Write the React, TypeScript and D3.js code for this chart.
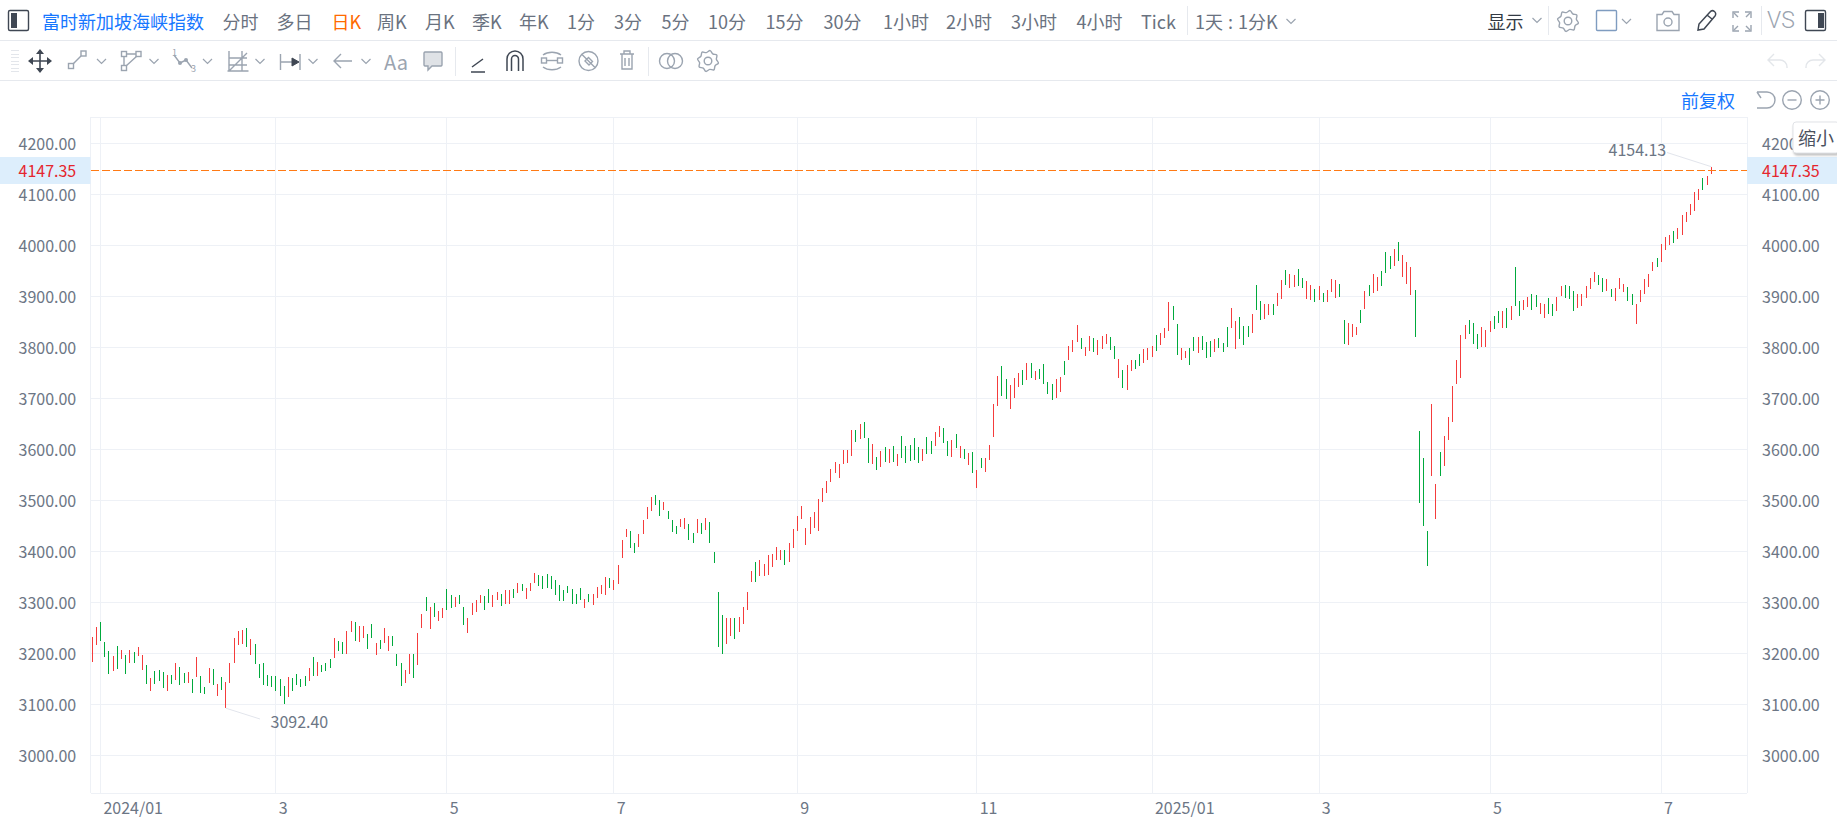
import React from "react";
import * as d3 from "d3";

const highs = [
  3232,3252,3261,3222,3205,3195,3214,3207,3197,3207,
  3203,3212,3197,3177,3152,3165,3167,3163,3158,3158,
  3181,3173,3161,3163,3150,3193,3156,3134,3171,3169,
  3140,3154,3144,3181,3230,3244,3246,3250,3228,3218,
  3179,3181,3158,3156,3156,3150,3136,3154,3152,3160,
  3150,3156,3171,3193,3183,3177,3181,3189,3230,3224,
  3222,3244,3263,3261,3254,3254,3238,3258,3220,3226,
  3250,3234,3234,3199,3181,3167,3199,3199,3240,3277,
  3310,3291,3299,3283,3289,3326,3314,3310,3314,3291,
  3269,3299,3305,3314,3312,3326,3314,3320,3316,3324,
  3324,3326,3338,3336,3328,3338,3358,3354,3352,3356,
  3352,3344,3334,3324,3332,3326,3316,3328,3307,3316,
  3316,3330,3334,3350,3348,3344,3373,3422,3444,3440,
  3416,3434,3461,3487,3507,3510,3501,3497,3479,3461,
  3450,3463,3465,3454,3436,3463,3455,3465,3457,3399,
  3320,3275,3269,3269,3269,3271,3291,3320,3361,3379,
  3383,3375,3393,3395,3408,3403,3403,3416,3444,3469,
  3489,3446,3467,3477,3503,3524,3538,3561,3575,3571,
  3599,3599,3638,3638,3650,3654,3622,3610,3585,3597,
  3605,3601,3607,3591,3626,3607,3609,3622,3605,3601,
  3624,3616,3634,3646,3642,3616,3618,3630,3607,3601,
  3593,3595,3560,3583,3583,3609,3689,3744,3763,3738,
  3726,3740,3750,3756,3769,3769,3754,3758,3767,3732,
  3728,3738,3742,3773,3803,3814,3844,3818,3801,3822,
  3818,3814,3822,3826,3820,3803,3777,3756,3765,3775,
  3775,3787,3797,3799,3803,3824,3828,3838,3889,3881,
  3846,3799,3793,3799,3820,3820,3822,3810,3812,3816,
  3818,3808,3840,3877,3852,3859,3842,3842,3865,3922,
  3891,3885,3885,3885,3906,3932,3952,3944,3942,3954,
  3936,3930,3922,3914,3920,3906,3912,3934,3932,3924,
  3854,3848,3846,3840,3873,3910,3922,3944,3938,3950,
  3987,3979,3993,4007,3981,3967,3957,3912,3636,3583,
  3440,3689,3532,3595,3626,3663,3724,3775,3824,3844,
  3853,3848,3826,3840,3834,3852,3861,3871,3871,3877,
  3881,3957,3891,3893,3899,3905,3903,3887,3885,3897,
  3885,3899,3920,3922,3920,3910,3905,3905,3920,3936,
  3948,3942,3936,3934,3914,3916,3936,3924,3918,3905,
  3885,3912,3934,3944,3967,3975,4003,4016,4020,4028,
  4034,4059,4065,4081,4105,4110,4132,4136,4154.13,
];

const lows = [
  3183,3216,3224,3193,3160,3165,3169,3189,3160,3181,
  3181,3195,3167,3140,3126,3140,3146,3132,3126,3140,
  3148,3138,3142,3142,3122,3154,3122,3120,3142,3138,
  3116,3128,3092.4,3142,3181,3216,3218,3212,3197,3179,
  3152,3138,3136,3134,3126,3116,3101,3114,3126,3138,
  3134,3136,3146,3156,3156,3163,3165,3171,3191,3205,
  3199,3199,3242,3224,3222,3230,3209,3230,3197,3209,
  3220,3205,3214,3175,3136,3142,3160,3152,3177,3250,
  3283,3248,3271,3263,3269,3285,3289,3291,3297,3255,
  3240,3275,3281,3299,3285,3299,3291,3305,3293,3297,
  3297,3308,3318,3322,3307,3322,3338,3332,3326,3328,
  3326,3314,3303,3303,3318,3297,3297,3305,3289,3301,
  3295,3308,3316,3314,3328,3324,3336,3387,3428,3406,
  3397,3408,3434,3463,3479,3491,3469,3481,3463,3438,
  3434,3448,3444,3422,3416,3436,3434,3442,3416,3377,
  3212,3199,3218,3234,3228,3242,3258,3285,3340,3340,
  3352,3352,3354,3369,3383,3383,3373,3379,3407,3440,
  3463,3412,3434,3446,3440,3497,3514,3536,3554,3544,
  3571,3573,3587,3614,3620,3622,3573,3571,3559,3565,
  3575,3573,3575,3567,3583,3573,3577,3579,3573,3577,
  3591,3591,3607,3624,3612,3587,3585,3603,3583,3581,
  3569,3554,3524,3563,3556,3579,3624,3685,3705,3699,
  3680,3700,3722,3726,3736,3740,3736,3738,3728,3708,
  3697,3700,3712,3746,3775,3791,3810,3797,3783,3793,
  3791,3785,3797,3807,3795,3777,3740,3720,3716,3754,
  3758,3763,3769,3775,3781,3793,3805,3818,3832,3854,
  3785,3775,3779,3765,3793,3789,3795,3779,3781,3791,
  3799,3791,3801,3838,3797,3816,3805,3820,3828,3873,
  3854,3855,3863,3863,3881,3895,3922,3916,3918,3920,
  3916,3895,3893,3889,3893,3889,3889,3908,3897,3899,
  3806,3805,3820,3824,3848,3875,3901,3906,3910,3920,
  3946,3954,3959,3969,3938,3924,3903,3820,3495,3450,
  3371,3548,3463,3548,3567,3618,3654,3728,3740,3816,
  3826,3806,3797,3801,3801,3830,3836,3848,3838,3838,
  3854,3881,3861,3873,3879,3873,3879,3865,3857,3865,
  3861,3871,3901,3897,3895,3871,3877,3881,3897,3914,
  3928,3922,3908,3910,3899,3891,3914,3908,3891,3883,
  3846,3889,3905,3918,3950,3957,3967,3991,4001,4005,
  4012,4020,4046,4059,4067,4089,4108,4118,4140,
];

const trend = [
  "RRGGGRGRGR","GRRGRGGGRG","RGGRGRGGRG","RGRRRRRGRG","GGGGGGGRGG",
  "GGRGRGGGRG","GRRGRRGGRG","RRGGGRRGRR","GRGRRGGRGG","RRRRGGRRGR",
  "RGRGRRRGGG","GGGGGGGGRG","RRRRGRRRRG","GRRRRGGRGG","GRRGGRGRGG",
  "GGRRGRRRRG","RRRRRRGRRR","RRRRRRRRRR","RRRGRGGRGR","GRGRGGGGGR",
  "GGRRGGRGRG","RGRGRRRRGG","RRRGRGRGGG","GRRGRRRGRR","GRRRGGRGRR",
  "GGRRRGRRRG","GRRGGRGGGR","GGGRRGGGRG","GRRGRRGRRG","GRRGRGRRRG",
  "GRRRGRGRRG","GGRGRRRGGG","GRRGRRRRRR","GGGRRRGGRG","RGGRRGGRRG",
  "GRRGGGRRRR","RGGRGRRRGG","RRRRRGRRRG","RRRRRRGRR",
];

const priceTicks = [3000,3100,3200,3300,3400,3500,3600,3700,3800,3900,4000,4100,4200];
const monthLabels = ["2024/01","3","5","7","9","11","2025/01","3","5","7"];
const monthBarIndex = [2,44,85,125,169,212,254,294,335,376];
const lastPrice = 4147.35;
const lowBar = 32, lowValue = 3092.4;
const highBar = 388, highValue = 4154.13;

const periods: [string, number][] = [
  ["分时",222.5],["多日",276.5],["周K",377],["月K",425],["季K",472],["年K",519],
  ["1分",567],["3分",614],["5分",661.5],["10分",708],["15分",765.5],["30分",823.5],
  ["1小时",883],["2小时",946],["3小时",1011],["4小时",1076.5],["Tick",1141],
];

const W = 1837, H = 831;
const FONT = '"Noto Sans CJK SC","Noto Sans",sans-serif';
const RED = "#f43c3c", GREEN = "#00a93c", GRID = "#eef1f6", AXT = "#6c7685", ICON = "#9ba4b0", DARK = "#3f4753", LINE = "#e6e9ee";
const PLOT = { l: 90.5, r: 1747, t: 117, b: 793 };

const Chev = ({ x, y }: { x: number; y: number }) => (
  <path d={`M${x - 4.5} ${y - 2}L${x} ${y + 2.5}L${x + 4.5} ${y - 2}`} fill="none" stroke={ICON} strokeWidth={1.2} />
);

const Gear = ({ x, y, r = 9 }: { x: number; y: number; r?: number }) => {
  const pts = d3.range(16).map((i) => {
    const a = (i / 16) * Math.PI * 2 + Math.PI / 16;
    const rr = i % 2 === 0 ? r * 1.12 : r * 0.9;
    return [x + rr * Math.cos(a), y + rr * Math.sin(a)] as [number, number];
  });
  return (
    <g fill="none" stroke={ICON} strokeWidth={1.4}>
      <path d={d3.line().curve(d3.curveCatmullRomClosed)(pts) || ""} />
      <circle cx={x} cy={y} r={r * 0.4} />
    </g>
  );
};

export default function App() {
  const x = d3.scaleLinear().domain([0, highs.length - 1]).range([92.3, 1711.3]);
  const y = d3.scaleLinear().domain([3000, 4200]).range([755.3, 143.3]);
  const colors = trend.join("");
  const py = (v: number) => Math.floor(y(v)) + 0.5;
  const lastY = py(lastPrice);

  React.useEffect(() => {
    document.body.style.margin = "0";
    document.body.style.overflow = "hidden";
  }, []);

  const txt = { fontFamily: FONT } as const;

  return (
    <svg width={W} height={H} viewBox={`0 0 ${W} ${H}`} style={{ position: "fixed", left: 0, top: 0, background: "#fff" }}>
      {/* plot frame and grid */}
      <g stroke={GRID} strokeWidth={1} shapeRendering="crispEdges">
        <line x1={PLOT.l} x2={PLOT.r} y1={PLOT.t} y2={PLOT.t} />
        <line x1={PLOT.l} x2={PLOT.r} y1={PLOT.b} y2={PLOT.b} />
        <line x1={PLOT.l} x2={PLOT.l} y1={PLOT.t} y2={PLOT.b} />
        <line x1={PLOT.r} x2={PLOT.r} y1={PLOT.t} y2={PLOT.b} />
        {priceTicks.map((t) => (
          <line key={t} x1={PLOT.l} x2={PLOT.r} y1={py(t)} y2={py(t)} />
        ))}
        {monthBarIndex.map((b) => (
          <line key={b} x1={Math.floor(x(b)) + 0.5} x2={Math.floor(x(b)) + 0.5} y1={PLOT.t} y2={PLOT.b} />
        ))}
      </g>

      {/* price-range bars */}
      <g shapeRendering="crispEdges">
        {highs.map((h, i) => (
          <rect
            key={i}
            x={Math.floor(x(i))}
            y={Math.round(y(h))}
            width={1}
            height={Math.max(1, Math.round(y(lows[i])) - Math.round(y(h)))}
            fill={colors[i] === "R" ? RED : GREEN}
          />
        ))}
      </g>

      {/* last price line */}
      <rect x={0} y={157} width={PLOT.l} height={27} fill="#ddeefc" />
      <rect x={PLOT.r} y={157} width={W - PLOT.r} height={27} fill="#ddeefc" />
      <line x1={PLOT.l} x2={PLOT.r} y1={lastY} y2={lastY} stroke="#ff7a14" strokeWidth={1} strokeDasharray="8 3" shapeRendering="crispEdges" />

      {/* axis labels */}
      <g {...txt} fontSize={16} fill={AXT} dominantBaseline="central">
        {priceTicks.map((t) => (
          <g key={t}>
            <text x={18.5} y={y(t) - 0.8}>{t.toFixed(2)}</text>
            <text x={1762} y={y(t) - 0.8}>{t.toFixed(2)}</text>
          </g>
        ))}
        {monthLabels.map((m, i) => (
          <text key={i} x={x(monthBarIndex[i]) + 2.8} y={807}>{m}</text>
        ))}
        <text x={270.5} y={720.5}>{lowValue.toFixed(2)}</text>
        <text x={1608.5} y={149}>{highValue.toFixed(2)}</text>
      </g>
      <g {...txt} fontSize={16} fill="#e5262e" dominantBaseline="central">
        <text x={18.5} y={lastY - 0.3}>{lastPrice.toFixed(2)}</text>
        <text x={1762} y={lastY - 0.3}>{lastPrice.toFixed(2)}</text>
      </g>
      <g stroke="#e2e5ec" strokeWidth={1} fill="none">
        <line x1={x(lowBar)} y1={y(lowValue)} x2={260} y2={719} />
        <line x1={1667} y1={152.5} x2={x(highBar)} y2={y(highValue)} />
      </g>

      {/* toolbar separators */}
      <g stroke={LINE} strokeWidth={1} shapeRendering="crispEdges">
        <line x1={0} x2={W} y1={40.5} y2={40.5} />
        <line x1={0} x2={W} y1={80.5} y2={80.5} />
        <line x1={1187.5} x2={1187.5} y1={6} y2={35} />
        <line x1={1548.5} x2={1548.5} y1={6} y2={35} />
        <line x1={1761.5} x2={1761.5} y1={6} y2={35} />
        <line x1={455.5} x2={455.5} y1={47} y2={76} />
        <line x1={648.5} x2={648.5} y1={47} y2={76} />
      </g>

      {/* first toolbar */}
      <rect x={8.5} y={10.5} width={20} height={20} rx={1.5} fill="none" stroke={DARK} strokeWidth={1.4} />
      <rect x={11} y={13} width={6} height={15} fill={DARK} />
      <g {...txt} fontSize={18} dominantBaseline="central">
        <text x={42} y={20.5} fill="#1677ff">富时新加坡海峡指数</text>
        <text x={331.5} y={20.5} fill="#ff6a00">日K</text>
        {periods.map(([p, px]) => (
          <text key={p} x={px} y={20.5} fill="#6a7280">{p}</text>
        ))}
        <text x={1195} y={20.5} fill="#6a7280" wordSpacing={1}>1天 : 1分K</text>
        <text x={1487.5} y={20.5} fill="#333a45">显示</text>
        <text x={1767} y={20.5} fill={ICON} fontSize={23} fontFamily="Roboto" fontWeight={300}>VS</text>
      </g>
      <Chev x={1291} y={21} />
      <Chev x={1537} y={20} />
      <Gear x={1568} y={21} r={9.5} />
      <rect x={1596.5} y={10.5} width={20} height={20} rx={1} fill="none" stroke="#7f9cc0" strokeWidth={1.4} />
      <Chev x={1626.5} y={21} />
      <g fill="none" stroke={ICON} strokeWidth={1.4}>
        <path d="M1657 14.5h5l2-3h8l2 3h5v16h-22z" />
        <circle cx={1668} cy={22} r={4} />
        <path d="M1733 18v-6h6M1751 18v-6h-6M1733 25v6h6M1751 25v6h-6" />
        <path d="M1734 13l4 4M1750 13l-4 4M1734 30l4-4M1750 30l-4-4" />
      </g>
      <path d="M1698 30l1-6 11-12a2.5 2.5 0 0 1 5 4l-11 13-6 1zM1707 15l5 4" fill="none" stroke={DARK} strokeWidth={1.5} />
      <rect x={1805.5} y={10.5} width={20} height={20} rx={1.5} fill="none" stroke={DARK} strokeWidth={1.4} />
      <rect x={1818} y={13} width={6} height={15} fill={DARK} />

      {/* second toolbar */}
      <g stroke="#e3e6eb" strokeWidth={1} shapeRendering="crispEdges">
        {d3.range(7).map((i) => (
          <line key={i} x1={11} x2={19} y1={50.5 + i * 3.5} y2={50.5 + i * 3.5} />
        ))}
      </g>
      <g fill="none" stroke={DARK} strokeWidth={1.6}>
        <path d="M31 61h18M40 52v18" />
      </g>
      <path d="M40 49l-4 5h8zM40 73l-4-5h8zM28 61l5-4v8zM52 61l-5-4v8z" fill={DARK} />
      <g fill="none" stroke={ICON} strokeWidth={1.4}>
        <rect x={68.5} y={63.5} width={5} height={5} />
        <rect x={81} y={51} width={5} height={5} />
        <path d="M73 64l8-8" />
        <rect x={121.5} y={51.5} width={5} height={5} />
        <rect x={136} y={51.5} width={5} height={5} />
        <rect x={121.5} y={65.5} width={5} height={5} />
        <path d="M126.5 54h9.5M124 56.5v9M126 66l11-10" />
        <path d="M174 55l6 8 6-3 6 8" />
        <path d="M227.5 71h21M229 51v20M229 71l18-18M229 58h18M229 65h18M242 51v20" />
        <path d="M280.5 54v16M300 54v16M281 62h15" />
        <path d="M334 61h18M341 54l-7 7 7 7" />
        <path d="M425 52h16a1.5 1.5 0 0 1 1 1v12a1.5 1.5 0 0 1-1 1h-9l-4 4v-4h-3a1.5 1.5 0 0 1-1-1v-12a1.5 1.5 0 0 1 1-1z" fill="#dfe2e6" />
        <path d="M543 55a12 8 0 0 1 18 0M543 67a12 8 0 0 0 18 0" />
        <rect x={541.5} y={58} width={5} height={5} />
        <rect x={557.5} y={58} width={5} height={5} />
        <path d="M546.5 60.5h11" />
        <circle cx={588.5} cy={61} r={9.5} />
        <path d="M582 54.5l13 13M585 61l3.5-3.5 4 4-3.5 3.5z" />
        <path d="M620 54h14M624 54v-3h6v3M622 54v15h10V54M625 58v8M629 58v8" />
        <circle cx={667} cy={61} r={7.5} />
        <circle cx={675} cy={61} r={7.5} />
        <path d="M1787 68v-1a7 7 0 0 0-7-7h-11M1774 54l-6 6 6 6" stroke="#e3e6ea" />
        <path d="M1806 68v-1a7 7 0 0 1 7-7h11M1819 54l6 6-6 6" stroke="#e3e6ea" />
        <circle cx={1792} cy={100} r={9.3} />
        <path d="M1787.5 100h9" />
        <circle cx={1820} cy={100} r={9.3} />
        <path d="M1815.5 100h9M1820 95.5v9" />
        <path d="M1757 92h10a8 8 0 0 1 0 16h-10M1757 92l4 6" />
      </g>
      <path d="M299 62l-7-4v8z" fill={DARK} stroke={DARK} />
      <g fill={ICON}>
        <circle cx={180} cy={63} r={2} />
        <circle cx={186} cy={60} r={2} />
      </g>
      <g {...txt} fontSize={9} fill={ICON}>
        <text x={172} y={56}>1</text>
        <text x={191} y={72}>3</text>
      </g>
      <g fill="none" stroke={ICON} strokeWidth={1.2}>
        <Chev x={101.5} y={61} /><Chev x={154} y={61} /><Chev x={207.5} y={61} />
        <Chev x={260} y={61} /><Chev x={313} y={61} /><Chev x={366} y={61} />
      </g>
      <text {...txt} x={384} y={61} fontSize={20} fill={ICON} dominantBaseline="central">Aa</text>
      <path d="M471 72h14M472 67l11-8" fill="none" stroke={DARK} strokeWidth={1.5} />
      <path d="M507 71V59a8 8 0 0 1 16 0v12M511.5 71V59a3.5 3.5 0 0 1 7 0v12" fill="none" stroke={DARK} strokeWidth={1.5} />
      <Gear x={708} y={61} r={9.5} />

      {/* adjust label */}
      <text {...txt} x={1681} y={100} fontSize={18} fill="#1677ff" dominantBaseline="central">前复权</text>

      {/* zoom tooltip */}
      <rect x={1793} y={122} width={46} height={31} rx={3} fill="#fff" stroke="#e1e3e7" style={{ filter: "drop-shadow(1px 2px 1px rgba(0,0,0,0.25))" }} />
      <text {...txt} x={1798} y={136.5} fontSize={18} fill="#4a5160" dominantBaseline="central">缩小</text>
    </svg>
  );
}
